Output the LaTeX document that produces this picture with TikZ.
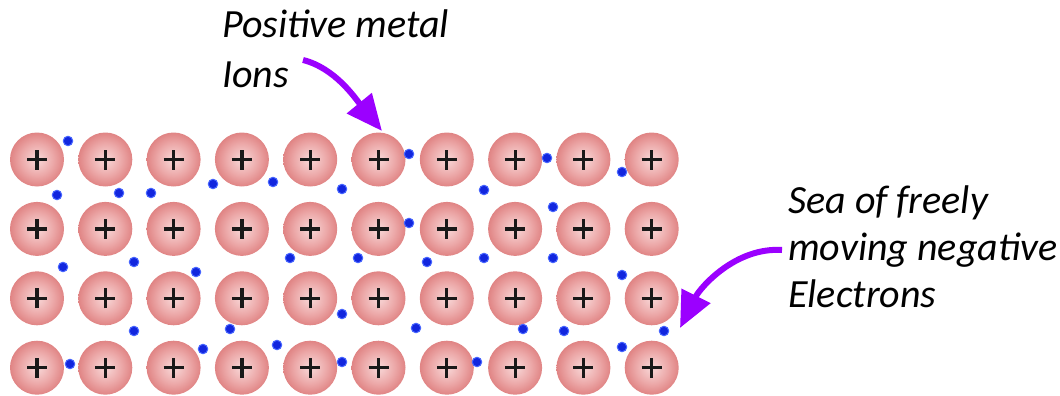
\documentclass[tikz,border=0pt]{standalone}
\usepackage{fontspec}
\setmainfont{Carlito}
\usetikzlibrary{arrows.meta}

\definecolor{ionin}{RGB}{245,204,204}
\definecolor{ionmid}{RGB}{236,168,168}
\definecolor{ionout}{RGB}{224,132,132}
\definecolor{elecfill}{RGB}{18,38,222}
\definecolor{elecedge}{RGB}{70,100,255}
\definecolor{pointer}{RGB}{155,0,255}

% soft pink ball, pale in the middle and deeper towards the edge
\pgfdeclareradialshading{ionball}{\pgfpoint{0bp}{0bp}}{%
  color(0bp)=(ionin); color(4bp)=(ionin); color(15bp)=(ionmid);
  color(25bp)=(ionout); color(50bp)=(ionout)}

\tikzset{
  ion/.style={circle, minimum size=54pt, inner sep=0pt, shading=ionball,
    path picture={
      \draw[line width=3.2pt, black!90]
        ([xshift=-10pt]path picture bounding box.center) -- ++(20pt,0pt)
        ([yshift=-10pt]path picture bounding box.center) -- ++(0pt,20pt);
    }},
  electron/.style={circle, minimum size=9.5pt, inner sep=0pt,
    fill=elecfill, draw=elecedge, line width=1pt},
  caption/.style={anchor=base west, inner sep=0pt,
    font=\itshape\fontsize{40}{48}\selectfont},
  pointer/.style={draw=pointer, line width=6pt,
    -{Triangle[length=36pt,width=31pt]}},
}

\begin{document}
\begin{tikzpicture}[x=1pt,y=-1pt]
\useasboundingbox (0,0) rectangle (1060,396);

% lattice of positive metal ions
\foreach \r in {0,...,3}{
  \foreach \c in {0,...,9}{
    \node[ion] (ion-\r-\c) at ({37+68.3*\c},{159.5+69.4*\r}) {};
  }
}

% delocalised electrons
\foreach \x/\y [count=\i] in {
  68/141, 409/154, 547/158, 622/172,
  57/195, 119/193, 151/193, 213/184, 273/182, 342/189, 484/190, 409/223, 553/207,
  63/267, 134/262, 196/272, 290/258, 358/258, 427/262, 484/258, 553/258, 622/275,
  342/314, 134/331, 230/329, 416/328, 523/329, 564/331, 664/331,
  70/364, 203/349, 277/345, 342/362, 477/362, 622/347}{
  \node[electron] (e\i) at (\x,\y) {};
}

% labels
\node[caption] (ionsA) at (222,38) {Positive metal};
\node[caption] (ionsB) at (222,88) {Ions};
\node[caption] (seaA) at (788,213) {Sea of freely};
\node[caption] (seaB) at (788,260) {moving negative};
\node[caption] (seaC) at (788,307) {Electrons};

% pointers
\coordinate (p1start) at (303,60);
\coordinate (p1end) at (382,131);
\coordinate (p2start) at (782,250);
\coordinate (p2end) at (680,328);
\draw[pointer] (p1start) .. controls (335,68) and (355,98) .. (p1end);
\draw[pointer] (p2start) .. controls (735,247) and (700,288) .. (p2end);
\end{tikzpicture}
\end{document}
